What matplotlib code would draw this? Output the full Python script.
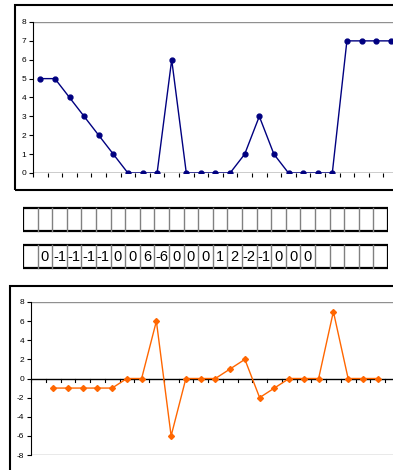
import matplotlib
matplotlib.use("Agg")
import matplotlib.pyplot as plt
from matplotlib.patches import Rectangle

plt.rcParams['font.family'] = ['Liberation Sans', 'DejaVu Sans']

# top series (25 categories)
top_x = list(range(1, 26))
top_y = [5, 5, 4, 3, 2, 1, 0, 0, 0, 6, 0, 0, 0, 0, 1, 3, 1, 0, 0, 0, 0, 7, 7, 7, 7]

# difference series, starts at category 2
diff_x = list(range(2, 25))
diff_y = [-1, -1, -1, -1, -1, 0, 0, 6, -6, 0, 0, 0, 1, 2, -2, -1, 0, 0, 0, 7, 0, 0, 0]

# text in second table row (cells 2..20)
row_text = ['0', '-1', '-1', '-1', '-1', '0', '0', '6', '-6', '0', '0', '0',
            '1', '2', '-2', '-1', '0', '0', '0']
n_cells = 25

W, H = 393, 470
fig = plt.figure(figsize=(W / 100, H / 100), dpi=100)


def px(x0, y0, x1, y1):
    # pixel box (top-left origin) -> figure fraction rect
    return [x0 / W, 1 - y1 / H, (x1 - x0) / W, (y1 - y0) / H]


def frame(x0, y0, x1, y1):
    fig.patches.append(Rectangle((x0 / W, 1 - y1 / H), (x1 - x0) / W, (y1 - y0) / H,
                                 transform=fig.transFigure, fill=False,
                                 edgecolor='black', linewidth=1.5))


def style_axes(ax, ymin, ymax, yticks):
    ax.set_xlim(0.5, 25.5)
    ax.set_ylim(ymin, ymax)
    for s in ['top', 'right', 'bottom']:
        ax.spines[s].set_visible(False)
    ax.spines['left'].set_color('black')
    ax.spines['left'].set_linewidth(0.8)
    ax.set_yticks(yticks)
    ax.set_yticklabels([str(v) for v in yticks], fontsize=6)
    ax.tick_params(axis='y', length=3, width=0.8, pad=2)
    ax.set_xticks([i + 0.5 for i in range(0, 26)])
    ax.set_xticklabels([])
    ax.tick_params(axis='x', length=3, width=0.8, direction='out')
    ax.axhline(ymax, color='#909090', lw=1)


# ---- top chart
frame(15, 5, 520, 190)
ax1 = fig.add_axes(px(33, 22, 33 + 25 * 14.6, 173))
style_axes(ax1, 0, 8, list(range(0, 9)))
ax1.axhline(0, color='black', lw=1)
ax1.plot(top_x, top_y, color='#000080', lw=1, marker='o', markersize=3.5)

# ---- tables
axt = fig.add_axes(px(23, 200, 388, 275))
axt.set_xlim(0, n_cells)
axt.set_ylim(0, 75)
axt.invert_yaxis()
axt.axis('off')
for (y0, y1) in [(8, 31), (45, 68)]:
    for i in range(1, n_cells):
        axt.plot([i, i], [y0, y1], color='#808080', lw=1)
    axt.add_patch(Rectangle((0, y0), n_cells, y1 - y0, fill=False,
                            edgecolor='black', lw=1.6))
for i, t in enumerate(row_text):
    axt.text(i + 1.5, 57, t, ha='center', va='center', fontsize=10.5)

# ---- bottom chart
frame(10, 286, 520, 560)
ax2 = fig.add_axes(px(31, 302, 31 + 25 * 14.75, 455))
style_axes(ax2, -8, 8, list(range(-8, 9, 2)))
ax2.axhline(-8, color='#909090', lw=1)
ax2.axhline(0, color='black', lw=1)
ax2.spines['bottom'].set_visible(False)
ax2.tick_params(axis='x', length=0)
for i in range(0, 26):
    ax2.plot([i + 0.5, i + 0.5], [0, -0.35], color='black', lw=0.8, clip_on=False)
ax2.plot(diff_x, diff_y, color='#FF6600', lw=1, marker='D', markersize=3)

fig.savefig('out.png', dpi=100)
